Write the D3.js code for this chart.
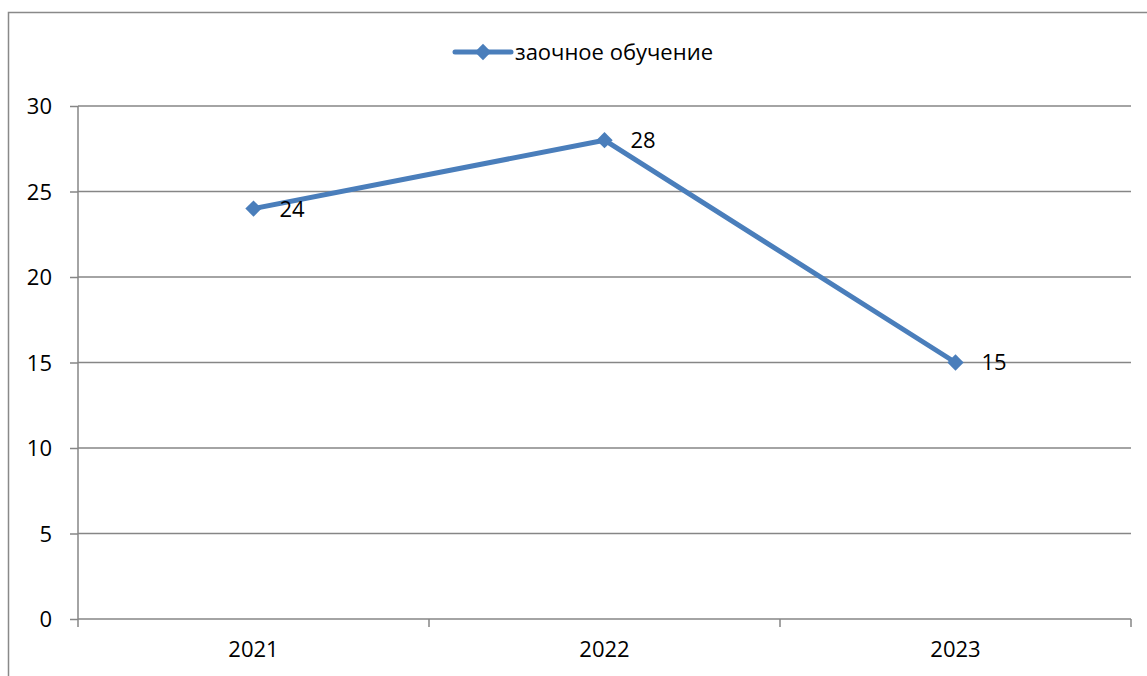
<!DOCTYPE html>
<meta charset="utf-8">
<style>
body { margin: 0; background: #fff; }
text { font-family: "Open Sans", sans-serif; fill: #000; }
</style>
<body>
<script src="https://cdn.jsdelivr.net/npm/d3@7"></script>
<script>
// chart data
var years = ["2021", "2022", "2023"];
var values = [24, 28, 15];
var seriesName = "заочное обучение";
var yTicks = [0, 5, 10, 15, 20, 25, 30];

var W = 1147, H = 676;
var margin = {top: 106, right: 16, bottom: 57, left: 78};
var width = W - margin.left - margin.right,
    height = H - margin.top - margin.bottom;
var blue = "#4a7ebb";
var fs = "22px";

var svg = d3.select("body").append("svg")
    .attr("width", W)
    .attr("height", H);

// outer chart border (runs off the right and bottom)
svg.append("rect")
    .attr("x", 8.5).attr("y", 12.5)
    .attr("width", W + 10).attr("height", H + 10)
    .attr("fill", "none")
    .attr("stroke", "#898989")
    .attr("stroke-width", 1.5);

var g = svg.append("g")
    .attr("transform", "translate(" + margin.left + "," + margin.top + ")");

var x = d3.scaleBand().domain(years).range([0, width]);
var y = d3.scaleLinear().domain([0, 30]).range([height, 0]);

// gridlines
g.selectAll(".grid")
    .data(yTicks.filter(function(d) { return d > 0; }))
  .enter().append("line")
    .attr("x1", 0).attr("x2", width)
    .attr("y1", function(d) { return y(d); })
    .attr("y2", function(d) { return y(d); })
    .attr("stroke", "#868686")
    .attr("stroke-width", 1.5);

// y axis
var yAxis = g.append("g")
    .call(d3.axisLeft(y).tickValues(yTicks).tickSize(8).tickPadding(18));
yAxis.selectAll("line, path").attr("stroke", "#868686").attr("stroke-width", 1.5);
yAxis.select(".domain").attr("d", "M0," + height + "V0");
yAxis.selectAll("text").style("font-size", fs).attr("dy", "0.36em");

// x axis
var xAxis = g.append("g")
    .attr("transform", "translate(0," + height + ")")
    .call(d3.axisBottom(x).tickSize(0).tickPadding(22));
xAxis.select(".domain").attr("stroke", "#868686").attr("stroke-width", 1.5)
    .attr("d", "M0,0H" + width);
xAxis.selectAll("text").style("font-size", fs);
// tick marks between categories
xAxis.selectAll(".sep")
    .data(d3.range(years.length + 1))
  .enter().append("line")
    .attr("x1", function(i) { return i * x.bandwidth(); })
    .attr("x2", function(i) { return i * x.bandwidth(); })
    .attr("y1", 0).attr("y2", 8)
    .attr("stroke", "#868686").attr("stroke-width", 1.5);

var cx = function(i) { return x(years[i]) + x.bandwidth() / 2; };

// the line
var line = d3.line()
    .x(function(d, i) { return cx(i); })
    .y(function(d) { return y(d); });

g.append("path")
    .datum(values)
    .attr("d", line)
    .attr("fill", "none")
    .attr("stroke", blue)
    .attr("stroke-width", 5)
    .attr("stroke-linejoin", "round");

var diamond = d3.symbol().type(d3.symbolDiamond2).size(170);

g.selectAll(".pt")
    .data(values)
  .enter().append("path")
    .attr("d", diamond)
    .attr("transform", function(d, i) { return "translate(" + cx(i) + "," + y(d) + ")"; })
    .attr("fill", blue);

// data labels
g.selectAll(".lbl")
    .data(values)
  .enter().append("text")
    .attr("x", function(d, i) { return cx(i) + 26; })
    .attr("y", function(d) { return y(d); })
    .attr("dy", "0.36em")
    .style("font-size", fs)
    .text(function(d) { return d; });

// legend
var lg = svg.append("g").attr("transform", "translate(455,52)");
lg.append("line")
    .attr("x1", 0).attr("x2", 56)
    .attr("stroke", blue).attr("stroke-width", 5)
    .attr("stroke-linecap", "round");
lg.append("path")
    .attr("d", diamond)
    .attr("transform", "translate(28,0)")
    .attr("fill", blue);
lg.append("text")
    .attr("x", 60)
    .attr("dy", "0.36em")
    .style("font-size", fs)
    .text(seriesName);
</script>
</body>
